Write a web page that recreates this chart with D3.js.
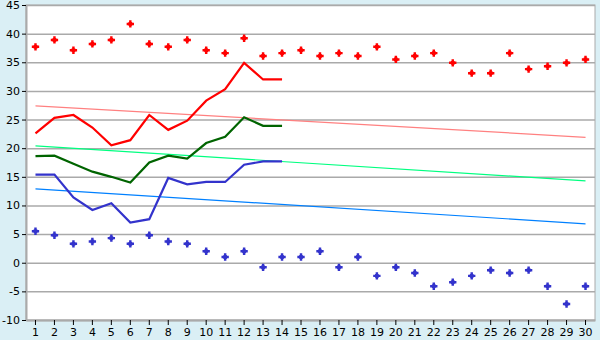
<!DOCTYPE html>
<html>
<head>
<meta charset="utf-8">
<script src="https://cdn.jsdelivr.net/npm/d3@7"></script>
<style>
  body { margin: 0; background: #daeff5; }
  svg { display: block; }
  text { font-family: "DejaVu Sans", Verdana, sans-serif; font-size: 11px; fill: #000; }
</style>
</head>
<body>
<svg id="chart" width="600" height="340"></svg>
<script>
// categories 1..30
const days = d3.range(1, 31);

// scattered high / low markers
const highMarks = [37.7, 38.9, 37.1, 38.2, 38.9, 41.7, 38.2, 37.7, 38.9, 37.1,
    36.6, 39.2, 36.1, 36.6, 37.1, 36.1, 36.6, 36.1, 37.7, 35.5,
    36.1, 36.6, 34.9, 33.1, 33.1, 36.6, 33.8, 34.3, 34.9, 35.5];
const lowMarks = [5.5, 4.8, 3.3, 3.7, 4.3, 3.3, 4.8, 3.7, 3.3, 2.0,
    1.0, 2.0, -0.8, 1.0, 1.0, 2.0, -0.8, 1.0, -2.3, -0.8,
    -1.8, -4.1, -3.4, -2.3, -1.3, -1.8, -1.3, -4.1, -7.2, -4.1];

// lines for first 14 days
const redLine = [22.6, 25.3, 25.8, 23.6, 20.5, 21.4, 25.8, 23.2, 24.8, 28.3, 30.3, 34.9, 32.0, 32.0];
const greenLine = [18.6, 18.7, 17.3, 15.9, 15.0, 14.0, 17.5, 18.7, 18.2, 20.9, 22.0, 25.4, 23.9, 23.9];
const blueLine = [15.4, 15.4, 11.4, 9.2, 10.4, 7.0, 7.6, 14.8, 13.7, 14.1, 14.1, 17.1, 17.7, 17.7];

// trend lines: [value at day 1, value at day 30]
const redTrend = [27.4, 21.9];
const greenTrend = [20.4, 14.3];
const blueTrend = [12.9, 6.8];

const yTicks = d3.range(-10, 46, 5);

const svg = d3.select("#chart");
const m = { l: 26, r: 5, t: 5, b: 20 };
const W = 600, H = 340;

const x = d3.scaleBand().domain(days).range([m.l, W - m.r]);
const y = d3.scaleLinear().domain([-10, 45]).range([H - m.b, m.t]);
const cx = (d) => x(d) + x.bandwidth() / 2;

// plot background
svg.append("rect")
    .attr("x", m.l).attr("y", m.t)
    .attr("width", W - m.r - m.l).attr("height", H - m.b - m.t)
    .attr("fill", "#fff").attr("stroke", "#aaa");

// gridlines
svg.append("g").selectAll("line").data(yTicks).enter().append("line")
    .attr("x1", m.l).attr("x2", W - m.r)
    .attr("y1", (d) => y(d) + 0.5).attr("y2", (d) => y(d) + 0.5)
    .attr("stroke", "#aaa").attr("stroke-width", 1.5);

// axes
const yAxis = svg.append("g")
    .attr("transform", `translate(${m.l},0)`)
    .call(d3.axisLeft(y).tickValues(yTicks).tickSize(4).tickPadding(2).tickSizeOuter(0));
const xAxis = svg.append("g")
    .attr("transform", `translate(0,${H - m.b})`)
    .call(d3.axisBottom(x).tickSize(5).tickPadding(3).tickSizeOuter(0));
for (const a of [yAxis, xAxis]) {
    a.select(".domain").attr("stroke", "#aaa").attr("stroke-width", 2);
    a.selectAll(".tick line").attr("stroke", "#000");
    a.selectAll(".tick text").attr("font-size", 11).attr("font-family", "DejaVu Sans, Verdana, sans-serif");
}
yAxis.selectAll(".tick text").text((d) => String(d));

// trend lines
const trends = [
    { v: redTrend, c: "#ff8080" },
    { v: greenTrend, c: "#00ff80" },
    { v: blueTrend, c: "#0080ff" },
];
svg.append("g").selectAll("line").data(trends).enter().append("line")
    .attr("x1", cx(1)).attr("x2", cx(30))
    .attr("y1", (d) => y(d.v[0])).attr("y2", (d) => y(d.v[1]))
    .attr("stroke", (d) => d.c).attr("stroke-width", 1.2);

// data lines
const line = d3.line().x((d, i) => cx(days[i])).y((d) => y(d));
const series = [
    { v: redLine, c: "#ff0000" },
    { v: greenLine, c: "#006400" },
    { v: blueLine, c: "#3333cc" },
];
svg.append("g").selectAll("path").data(series).enter().append("path")
    .attr("d", (d) => line(d.v))
    .attr("fill", "none")
    .attr("stroke", (d) => d.c)
    .attr("stroke-width", 2.2);

// markers: plus with a thicker core
const cross = d3.symbol().type(d3.symbolCross).size(30);
const core = d3.symbol().type(d3.symbolSquare).size(14);
const marks = [
    { v: highMarks, c: "#ff0000" },
    { v: lowMarks, c: "#3333cc" },
];
for (const s of marks) {
    const g = svg.append("g").selectAll("g").data(s.v).enter().append("g")
        .attr("transform", (d, i) => `translate(${cx(days[i])},${y(d)})`)
        .attr("fill", s.c);
    g.append("path").attr("d", cross);
    g.append("path").attr("d", core);
}
</script>
</body>
</html>
